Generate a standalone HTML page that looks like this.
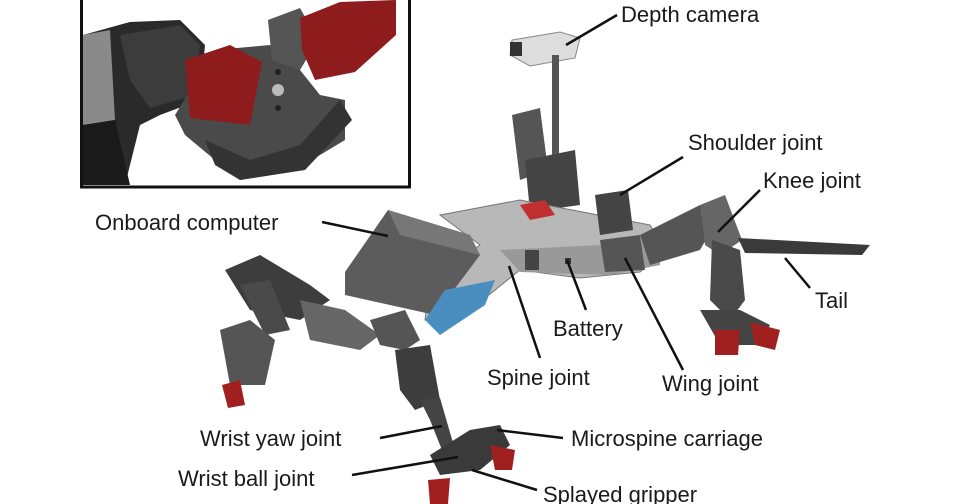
<!DOCTYPE html>
<html><head><meta charset="utf-8"><style>
html,body{margin:0;padding:0;background:#fff;width:960px;height:504px;overflow:hidden}
svg{display:block}
text{font-family:"Liberation Sans",sans-serif;font-size:22px;fill:#1a1a1a}
</style></head><body>
<svg width="960" height="504" viewBox="0 0 960 504" xmlns="http://www.w3.org/2000/svg">
<!-- inset -->
<rect x="81.5" y="-3" width="328" height="190" fill="#fff" stroke="#111" stroke-width="3"/>
<g>
<polygon points="83,35 130,22 180,20 205,45 200,100 160,115 140,125 125,185 83,185" fill="#2a2a2a"/>
<polygon points="83,35 110,30 115,120 83,125" fill="#8a8a8a"/>
<polygon points="83,125 115,120 130,185 83,185" fill="#1a1a1a"/>
<polygon points="120,35 180,25 200,45 195,95 150,108 130,80" fill="#3c3c3c"/>
<polygon points="175,115 215,50 270,45 300,70 320,95 345,100 345,140 295,170 240,180 215,160 185,135" fill="#4a4a4a"/>
<polygon points="205,140 250,160 300,145 340,100 352,120 305,170 240,180 215,165" fill="#333"/>
<polygon points="185,60 230,45 262,62 250,125 190,118" fill="#8e1c1c"/>
<polygon points="268,20 300,8 318,40 300,70 272,60" fill="#555"/>
<polygon points="300,18 340,2 396,0 396,35 355,72 315,80 302,50" fill="#8e1c1c"/>
<circle cx="278" cy="90" r="6" fill="#bbb"/>
<circle cx="278" cy="72" r="3" fill="#222"/>
<circle cx="278" cy="108" r="3" fill="#222"/>
</g>
<!-- depth camera + mast -->
<polygon points="512,40 560,32 580,38 575,58 530,66 510,55" fill="#ddd" stroke="#888"/>
<rect x="510" y="42" width="12" height="14" fill="#333"/>
<rect x="552" y="55" width="7" height="160" fill="#555"/>
<!-- back servo stack -->
<polygon points="512,115 540,108 548,170 520,180" fill="#555"/>
<polygon points="525,160 575,150 580,205 530,212" fill="#444"/>
<!-- body frame -->
<polygon points="440,215 520,200 650,225 665,250 640,272 580,278 520,270 470,310 425,320 430,280 480,245" fill="#b8b8b8" stroke="#777"/>
<polygon points="500,250 600,245 660,240 660,265 610,275 520,272" fill="#999"/>
<rect x="525" y="250" width="14" height="20" fill="#444"/>
<rect x="565" y="258" width="6" height="6" fill="#333"/>
<polygon points="520,205 545,200 555,215 530,220" fill="#c03030"/>
<!-- shoulder servo -->
<polygon points="595,195 628,190 633,230 600,235" fill="#444"/>
<!-- wing joint -->
<polygon points="600,240 640,235 645,270 605,272" fill="#555"/>
<!-- right leg -->
<polygon points="640,235 700,205 720,215 700,250 650,265" fill="#555"/>
<polygon points="700,205 725,195 742,240 720,255 705,245" fill="#666"/>
<polygon points="712,240 740,250 745,300 730,320 710,300" fill="#4a4a4a"/>
<polygon points="738,238 870,245 862,255 745,253" fill="#3a3a3a"/>
<polygon points="700,310 740,310 770,325 760,345 720,345" fill="#444"/>
<polygon points="715,330 740,330 738,355 715,355" fill="#a02020"/>
<polygon points="750,322 780,330 775,350 755,345" fill="#a02020"/>
<!-- computer -->
<polygon points="345,272 388,210 470,235 480,255 435,315 345,295" fill="#5c5c5c"/>
<polygon points="388,210 470,235 480,255 400,235" fill="#777"/>
<!-- battery -->
<polygon points="425,320 445,290 495,280 485,305 440,335" fill="#4a8ec0"/>
<!-- left legs -->
<polygon points="225,270 260,255 310,285 330,300 300,320 250,310" fill="#3d3d3d"/>
<polygon points="240,285 270,280 290,330 265,335" fill="#4a4a4a"/>
<polygon points="220,330 250,320 275,340 265,385 230,385" fill="#555"/>
<polygon points="222,385 240,380 245,405 228,408" fill="#a02020"/>
<polygon points="300,300 345,310 380,335 360,350 310,340" fill="#666"/>
<polygon points="370,320 405,310 420,340 405,350 380,345" fill="#555"/>
<polygon points="395,350 430,345 440,400 415,410 400,390" fill="#3d3d3d"/>
<polygon points="420,400 440,398 458,460 448,465 430,420" fill="#444"/>
<!-- gripper -->
<polygon points="430,455 470,430 500,425 510,445 480,470 440,475" fill="#3a3a3a"/>
<polygon points="490,445 515,450 512,470 495,470" fill="#a02020"/>
<polygon points="428,480 450,478 448,504 430,504" fill="#a02020"/>
<!-- leader lines -->
<g stroke="#111" stroke-width="2.5" fill="none">
<line x1="617" y1="15" x2="566" y2="45"/>
<line x1="683" y1="157" x2="620" y2="195"/>
<line x1="760" y1="190" x2="718" y2="232"/>
<line x1="322" y1="222" x2="388" y2="236"/>
<line x1="810" y1="288" x2="785" y2="258"/>
<line x1="586" y1="310" x2="567" y2="260"/>
<line x1="540" y1="358" x2="509" y2="266"/>
<line x1="683" y1="370" x2="625" y2="258"/>
<line x1="380" y1="438" x2="442" y2="426"/>
<line x1="563" y1="438" x2="497" y2="430"/>
<line x1="352" y1="475" x2="458" y2="457"/>
<line x1="537" y1="490" x2="472" y2="470"/>
</g>
<text x="621" y="22">Depth camera</text>
<text x="688" y="150">Shoulder joint</text>
<text x="763" y="188">Knee joint</text>
<text x="95" y="230">Onboard computer</text>
<text x="815" y="308">Tail</text>
<text x="553" y="336">Battery</text>
<text x="487" y="385">Spine joint</text>
<text x="662" y="391">Wing joint</text>
<text x="200" y="446">Wrist yaw joint</text>
<text x="571" y="446">Microspine carriage</text>
<text x="178" y="486">Wrist ball joint</text>
<text x="543" y="502">Splayed gripper</text>
</svg>
</body></html>
